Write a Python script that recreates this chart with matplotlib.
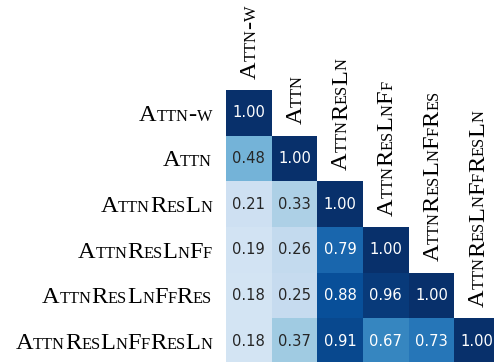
import numpy as np
import matplotlib
matplotlib.use("Agg")
import matplotlib.pyplot as plt
from matplotlib.transforms import ScaledTranslation, blended_transform_factory
from matplotlib.textpath import TextToPath
from matplotlib.font_manager import FontProperties

# model variants (rendered in small caps)
names = ["Attn-w", "Attn", "AttnResLn", "AttnResLnFf", "AttnResLnFfRes", "AttnResLnFfResLn"]

# lower triangle of the similarity matrix, row by row
row0 = [1.00]
row1 = [0.48, 1.00]
row2 = [0.21, 0.33, 1.00]
row3 = [0.19, 0.26, 0.79, 1.00]
row4 = [0.18, 0.25, 0.88, 0.96, 1.00]
row5 = [0.18, 0.37, 0.91, 0.67, 0.73, 1.00]
rows = [row0, row1, row2, row3, row4, row5]

n = len(names)
vals = np.full((n, n), np.nan)
for i, r in enumerate(rows):
    vals[i, :len(r)] = r
vals = np.ma.masked_invalid(vals)

DPI = 100
fig = plt.figure(figsize=(4.94, 3.62), dpi=DPI)
ax = fig.add_axes([226/494, 1 - 364/362, 274/494, 274/362])
cmap = plt.get_cmap("Blues")
ax.pcolormesh(np.arange(n + 1), np.arange(n + 1), vals, cmap=cmap, vmin=0, vmax=1)
ax.set_xlim(0, n)
ax.set_ylim(n, 0)
ax.axis("off")


def lum(c):
    rgb = np.array(c[:3])
    rgb = np.where(rgb <= .03928, rgb / 12.92, ((rgb + .055) / 1.055) ** 2.4)
    return rgb.dot([.2126, .7152, .0722])


for i, r in enumerate(rows):
    for j, v in enumerate(r):
        col = cmap(v)
        tc = ".15" if lum(col) > .408 else "w"
        ax.text(j + 0.5, i + 0.5, "%.2f" % v, ha="center", va="center",
                fontsize=10.6, color=tc, family="DejaVu Sans")

# fake small caps: capitals big, lowercase as small capitals
SERIF = "Liberation Serif"
BIG, SMALL = 17.6, 11.8
t2p = TextToPath()
pad = 0.0 / DPI  # spacing between pieces, inches


def pieces(s):
    out = []
    for ch in s:
        isbig = not ch.islower()
        c = ch.upper()
        if out and out[-1][1] == isbig:
            out[-1][0] += c
        else:
            out.append([c, isbig])
    res = []
    for txt, isbig in out:
        sz = BIG if isbig else SMALL
        w, h, d = t2p.get_text_width_height_descent(
            txt, FontProperties(family=SERIF, size=sz), ismath=False)
        res.append((txt, sz, w / 72.0))
    return res


def total(ps):
    return sum(p[2] for p in ps) + pad * (len(ps) - 1)


# row labels, right aligned left of the matrix
tr_rows = blended_transform_factory(ax.transAxes, ax.transData)
for i, name in enumerate(names):
    ps = pieces(name)
    x0 = -14.0 / DPI - total(ps)
    for txt, sz, w in ps:
        off = ScaledTranslation(x0, -7.8 / DPI, fig.dpi_scale_trans)
        ax.text(0, i + 0.5, txt, family=SERIF, fontsize=sz, ha="left", va="baseline",
                transform=tr_rows + off, clip_on=False)
        x0 += w + pad

# column labels, rotated, sitting above the diagonal cell
for j, name in enumerate(names):
    ps = pieces(name)
    y0 = 11.5 / DPI
    for txt, sz, w in ps:
        off = ScaledTranslation(6.8 / DPI, y0, fig.dpi_scale_trans)
        ax.text(j + 0.5, j, txt, family=SERIF, fontsize=sz, ha="left", va="baseline",
                rotation=90, rotation_mode="anchor",
                transform=ax.transData + off, clip_on=False)
        y0 += w + pad

fig.savefig("out.png", dpi=DPI)
